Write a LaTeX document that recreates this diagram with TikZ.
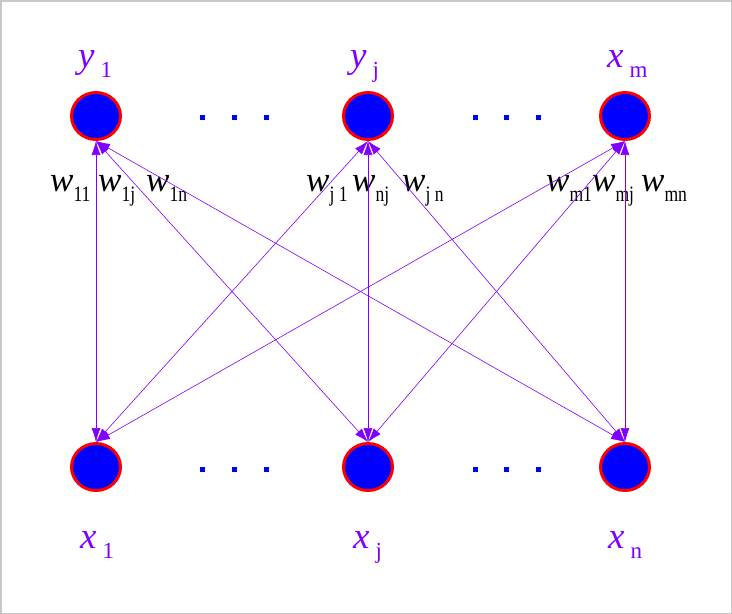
\documentclass[tikz,border=0pt]{standalone}
\usepackage{fontspec}
\setmainfont{Liberation Serif}
\usetikzlibrary{shapes.geometric, arrows.meta}
\definecolor{purp}{HTML}{8000FF}
\definecolor{framegray}{HTML}{C8C8C8}
\tikzstyle{neuron} = [
    ellipse,
    minimum width=49pt,
    minimum height=47pt,
    inner sep=0pt,
    fill=blue,
    draw=red,
    line width=3pt
]
\tikzstyle{neuronlabel} = [
    text=purp,
    font=\fontsize{37}{37}\selectfont,
    anchor=base west,
    inner sep=0pt
]
\tikzstyle{weight} = [
    font=\fontsize{35}{35}\selectfont,
    anchor=base west,
    inner sep=0pt
]
\tikzstyle{dotbox} = [rectangle, fill=blue, minimum size=5pt, inner sep=0pt]
\tikzstyle{link} = [draw=purp, line width=0.6pt, {Latex[length=14pt,width=9pt]}-{Latex[length=14pt,width=9pt]}]
\newcommand{\namesub}[2]{\textit{#1}\hspace{6pt}{\fontsize{23}{23}\selectfont\raisebox{-10pt}{#2}}}
\newcommand{\wsub}[1]{\textit{w}{\fontsize{22}{22}\selectfont\raisebox{-10pt}{\scalebox{0.8}[1]{#1}}}}

\begin{document}
\begin{tikzpicture}[x=1pt, y=-1pt]

\useasboundingbox (0,0) rectangle (732,614);
\draw [framegray, line width=1.5pt] (0.75,0.75) rectangle (731.25,613.25);

% Neurons
\node (y1) [neuron] at (96,116) {};
\node (yj) [neuron] at (368,116) {};
\node (xm) [neuron] at (625,116) {};
\node (x1) [neuron] at (96,467) {};
\node (xj) [neuron] at (368,467) {};
\node (xn) [neuron] at (625,467) {};

% Dots
\foreach \i/\px in {1/202, 2/234, 3/266, 4/475, 5/506, 6/538} {
    \node (dottop\i) [dotbox] at (\px,117) {};
    \node (dotbot\i) [dotbox] at (\px,469) {};
}

% Labels
\node (ny1) [neuronlabel] at (78,67) {\namesub{y}{1}};
\node (nyj) [neuronlabel] at (350,67) {\namesub{y}{j}};
\node (nxm) [neuronlabel] at (607,67) {\namesub{x}{m}};
\node (nx1) [neuronlabel] at (80,548) {\namesub{x}{1}};
\node (nxj) [neuronlabel] at (353,548) {\namesub{x}{j}};
\node (nxn) [neuronlabel] at (608,548) {\namesub{x}{n}};

% Weights
\node (w11) [weight] at (50,191) {\wsub{11}};
\node (w1j) [weight] at (98,191) {\wsub{1j}};
\node (w1n) [weight] at (146,191) {\wsub{1n}};
\node (wj1) [weight] at (306,191) {\wsub{j 1}};
\node (wnj) [weight] at (352,191) {\wsub{nj}};
\node (wjn) [weight] at (402,191) {\wsub{j n}};
\node (wm1) [weight] at (546,191) {\wsub{m1}};
\node (wmj) [weight] at (592,191) {\wsub{mj}};
\node (wmn) [weight] at (641,191) {\wsub{mn}};

% Arrows
\foreach \t in {y1, yj, xm} {
    \foreach \b in {x1, xj, xn} {
        \draw [link] (\t.south) -- (\b.north);
    }
}

\end{tikzpicture}
\end{document}
